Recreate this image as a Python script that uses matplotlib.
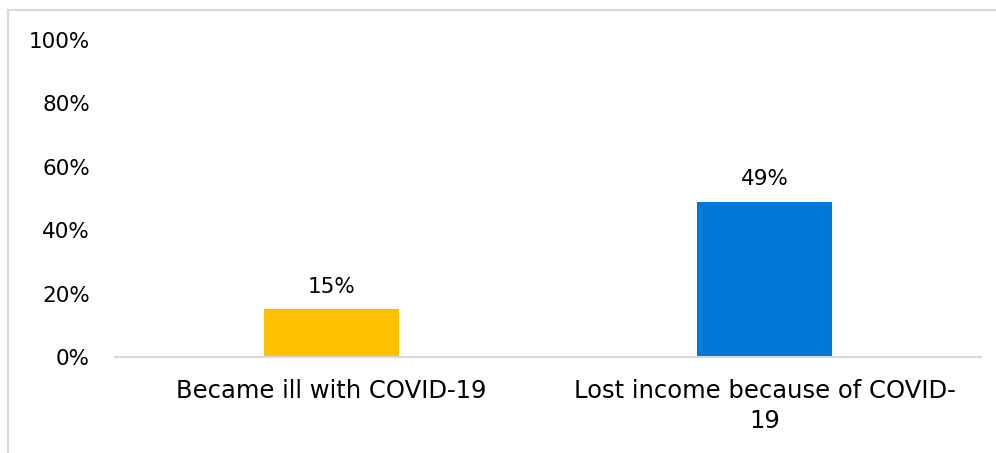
import matplotlib.pyplot as plt
from matplotlib.lines import Line2D

categories = ["Became ill with COVID-19", "Lost income because of COVID-\n19"]
values = [15, 49]
colors = ["#FFC000", "#0078D7"]
yticks = [0, 20, 40, 60, 80, 100]

plt.rcParams['font.family'] = ['DejaVu Sans']

fig = plt.figure(figsize=(9.96, 4.53), dpi=100)
ax = fig.add_axes([115 / 996, 1 - 357 / 453, 866 / 996, 317 / 453])

x = range(len(categories))
bars = ax.bar(x, values, width=0.314, color=colors)
for b, v in zip(bars, values):
    ax.text(b.get_x() + b.get_width() / 2, v + 4, f"{v}%", ha="center", va="bottom",
            fontsize=15.5, color="#000000")

ax.set_xlim(-0.5, 1.5)
ax.set_ylim(0, 100)
ax.set_yticks(yticks)
ax.set_yticklabels([f"{t}%" for t in yticks], fontsize=15.5)
ax.set_xticks(list(x))
ax.set_xticklabels(categories, fontsize=17.5, linespacing=1.3)
ax.tick_params(axis="both", length=0)
ax.tick_params(axis="y", pad=18)
ax.tick_params(axis="x", pad=16)

for s in ["top", "right", "left"]:
    ax.spines[s].set_visible(False)
ax.spines["bottom"].set_color("#D9D9D9")
ax.spines["bottom"].set_linewidth(1.5)

# outer frame of the chart area (top and left edges)
fig.add_artist(Line2D([8 / 996, 1], [1 - 10 / 453, 1 - 10 / 453], color="#D9D9D9", lw=1.5,
                      transform=fig.transFigure))
fig.add_artist(Line2D([8 / 996, 8 / 996], [0, 1 - 10 / 453], color="#D9D9D9", lw=1.5,
                      transform=fig.transFigure))

fig.savefig("out.png", dpi=100)
